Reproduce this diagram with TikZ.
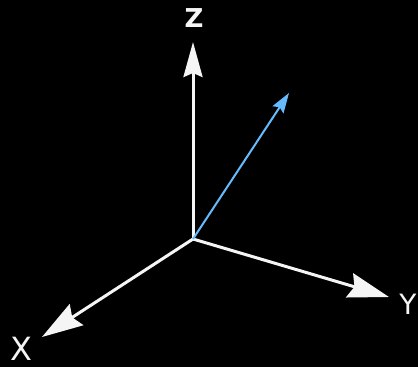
\documentclass[tikz,border=0pt]{standalone}
\usepackage{fontspec}
\setsansfont{DejaVu Sans}
\usetikzlibrary{arrows.meta}
\definecolor{vecblue}{HTML}{66BBFF}
\tikzset{
  axis/.style={draw=gray!8, line width=3pt},
  zhead/.style={-{Stealth[length=35pt,width=19pt,inset=4pt]}},
  xyhead/.style={-{Stealth[length=41pt,width=25pt,inset=5pt]}},
  vecline/.style={draw=vecblue, line width=2pt, -{Stealth[length=20pt,width=13pt,inset=3pt]}},
  axislabel/.style={text=gray!8, inner sep=0pt, font=\sffamily\fontsize{#1}{#1}\selectfont}
}
\begin{document}
\begin{tikzpicture}[x=1pt, y=-1pt]
  \fill[black] (0,0) rectangle (418,367);
  \useasboundingbox (0,0) rectangle (418,367);
  % origin and tips
  \coordinate (O) at (193,239);
  \coordinate (zt) at (193,42);
  \coordinate (xt) at (42,337);
  \coordinate (yt) at (389,297);
  \coordinate (vt) at (289,93);
  % axes
  \draw[axis, zhead] (O) -- (zt);
  \draw[axis, xyhead] (O) -- (xt);
  \draw[axis, xyhead] (O) -- (yt);
  \draw[vecline] (O) -- (vt);
  % labels
  \node[axislabel=26, font=\sffamily\bfseries\fontsize{26}{26}\selectfont] (zl) at (194,18) {Z};
  \node[axislabel=32] (xl) at (21,349) {X};
  \node[axislabel=28] (yl) at (408,304) {Y};
\end{tikzpicture}
\end{document}
